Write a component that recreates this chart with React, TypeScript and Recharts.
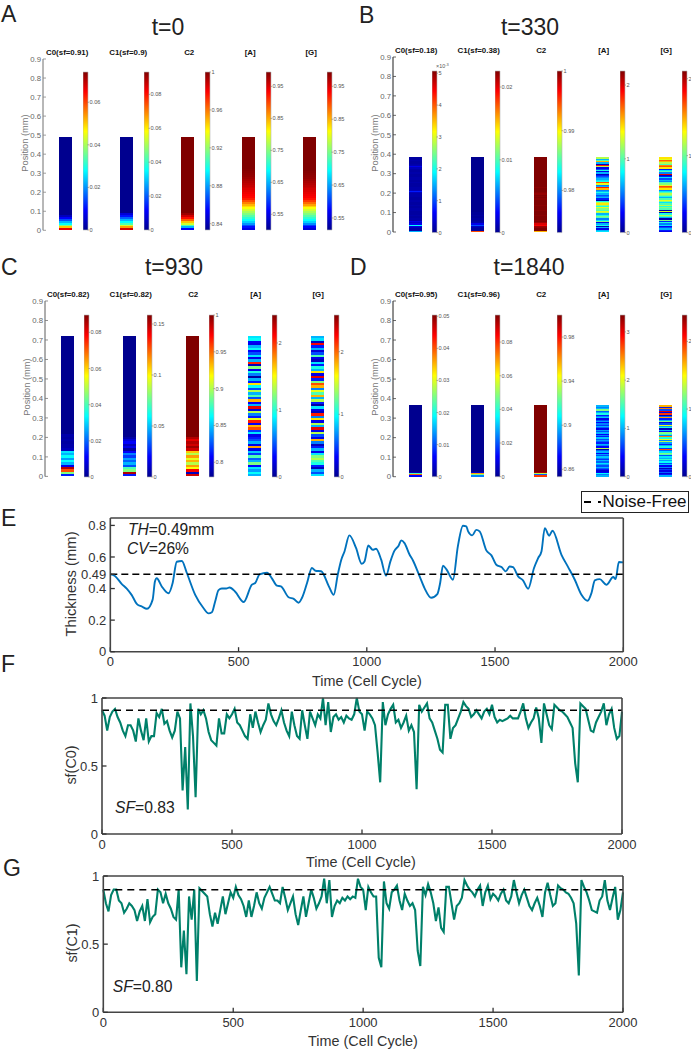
import { Bar, BarChart, Cell, Line, LineChart, ReferenceLine, XAxis, YAxis } from 'recharts';

const PAGE_W = 691;
const FONT = '"Liberation Sans", Arial, sans-serif';

// -- heat columns: colour level 0..1 per grid cell, bottom up. Last cell runs to the film top.
const A_C0 = [.9, .68, .5, .38, .3, .2, .12, .05, 0];
const A_C1 = [.92, .72, .58, .45, .38, .3, .22, .14, .08, 0];
const A_C2 = [.12, .3, .45, .58, .68, .78, .86, .92, .97, 1];
const A_A = [.1, .14, .2, .27, .33, .38, .42, .46, .5, .54, .58, .62, .66, .7, .75, .8, .85, .87, .88, .89, .9, .91, .92, .93, .94, .95, .96, .97, .98, .985, .99, .995, 1];
const A_G = [.08, .12, .18, .26, .33, .38, .42, .46, .5, .54, .58, .62, .67, .72, .77, .82, .86, .88, .89, .9, .91, .92, .93, .94, .95, .96, .97, .98, .985, .99, .995, 1];

const B_C0 = [.3, .03, .03, .05, .1, .38, .1, .06, .1, .03, .03, .02, .02, .03, .02, .02, .02, .03, .03, .02, .02, .03, .02, .02, .03, .03, .02, .02, .03, .03, .03, .05, .15, .05, .03, .03, .02, .02, .02, .03, .02, .02, .03, .03, .02, .02, .02, .03, .02, .02, .03, .05, .1, .04, .03, .02, .02, .03, .02, .02];
const B_C1 = [.8, .02, .02, .03, .06, .2, .1, .03, .02, .01, .02, .01, .01, .02, .01, .01, 0];
const B_C2 = [.7, 1, 1, .98, .97, .88, .91, .97, 1, .99, 1, 1, 1, .99, 1, 1, 1, .99, 1, 1, 1, .99, 1, 1, 1, 1, .99, 1, .99, 1, .98, .99, 1, 1, 1, .99, 1, 1, 1];
const B_A = [.35, .3, .1, .3, .05, .4, .3, .1, .5, .35, .25, .45, .5, .4, .3, .55, .6, .45, .5, .6, .4, .5, .65, .55, .4, .02, .15, .3, .25, .2, .3, .4, .3, .25, .7, .85, .3, .25, .6, .8, .4, .35, .3, .25, .2, .15, .05, .3, .1, .4, .2, .1, .55, .85, .05, .3, .7, .45, .3, .55];
const B_G = [.1, .15, .3, .2, .12, .35, .25, .4, .15, .5, .03, .3, .45, .55, .4, .05, .6, .02, .45, .5, .4, .55, .45, .35, .5, .6, .45, .3, .4, .5, .55, .45, .35, .25, .65, .75, .8, .6, .5, .45, .25, .3, .2, .35, .15, .05, .9, .25, .45, .35, .15, .65, .8, .75, .45, .55, .7, .78, .6, .65];

const C_C0 = [.15, .5, .8, .95, .1, .3, .38, .28, .38, .3, .35, .05, .03, .03, .02, .03, .02, .03, 0];
const C_C1 = [.15, .95, .5, .45, .2, .3, .22, .28, .18, .25, .12, .02, .1, .05, .12, .08, .03, 0];
const C_C2 = [.92, .05, .88, .62, .72, .55, .7, .6, .72, .55, .68, .92, .97, .92, .95, .9, .95, 1];
const C_A = [.3, .38, .28, .35, .12, .5, .3, .22, .45, .18, .32, .1, .72, .1, .3, .2, .15, .1, .35, .18, .8, .7, .12, .85, .6, .15, .25, .55, .08, .9, .3, .12, .7, .2, .45, .3, .55, .2, .38, .65, .15, .3, .02, .25, .4, .1, .5, .05, .85, .3, .1, .35, .2, .12, .38, .3, .1, .12, .38, .35];
const C_G = [.35, .2, .3, .05, .15, .4, .45, .55, .5, .35, .1, .3, .15, .05, .25, .7, .1, .2, .55, .1, .9, .3, .55, .1, .65, .25, .85, .05, .1, .35, .02, .15, .55, .3, .7, .45, .6, .25, .7, .8, .5, .15, .9, .1, .65, .3, .4, .15, .35, .05, .1, .45, .2, .08, .3, .15, .88, .05, .35, .3];

const D_C0 = [.12, .78, .45, .05, 0];
const D_C1 = [.25, .5, .72, .08, 0];
const D_C2 = [.82, .22, .55, .95, 1];
const D_A = [.3, .25, .38, .12, .08, .15, .22, .3, .2, .28, .35, .22, .3, .18, .25, .32, .2, .28, .12, .3, .22, .02, .55, .12, .25, .3, .15, .22, .28, .2, .32, .15, .25, .12, .3, .2, .28, .1, .22, .3, .18, .25, .12, .28, .2, .1, .32, .25, .15, .4, .3, .22, .5, .3, .25, .3];
const D_G = [.3, .15, .08, .22, .1, .18, .05, .25, .12, .32, .2, .38, .28, .42, .3, .35, .2, .45, .5, .35, .22, .8, .18, .4, .3, .15, .28, .55, .25, .6, .4, .75, .25, .42, .5, .12, .3, .05, .4, .28, .6, .2, .08, .5, .3, .15, .72, .22, .05, .82, .1, .9, .2, .75, .15, .7];

// -- colour bars: [min, max] and tick values for each column
const A_BARS = [
  { domain: [0, 0.0742], ticks: [0, 0.02, 0.04, 0.06] },
  { domain: [0, 0.0932], ticks: [0, 0.02, 0.04, 0.06, 0.08] },
  { domain: [0.8333, 1], ticks: [0.84, 0.88, 0.92, 0.96, 1] },
  { domain: [0.501, 0.995], ticks: [0.55, 0.65, 0.75, 0.85, 0.95] },
  { domain: [0.5135, 0.9935], ticks: [0.55, 0.65, 0.75, 0.85, 0.95] },
];
const B_BARS = [
  { domain: [0, 5.07], ticks: [0, 1, 2, 3, 4, 5] },
  { domain: [0, 0.0222], ticks: [0, 0.01, 0.02] },
  { domain: [0.97294, 1], ticks: [0.98, 0.99, 1] },
  { domain: [0, 2.19], ticks: [0, 1, 2] },
  { domain: [0, 2.1], ticks: [0, 1, 2] },
];
const C_BARS = [
  { domain: [0, 0.0896], ticks: [0, 0.02, 0.04, 0.06, 0.08] },
  { domain: [0, 0.1588], ticks: [0, 0.05, 0.1, 0.15] },
  { domain: [0.78, 1], ticks: [0.8, 0.85, 0.9, 0.95, 1] },
  { domain: [0, 2.418], ticks: [0, 1, 2] },
  { domain: [0, 2.585], ticks: [0, 1, 2] },
];
const D_BARS = [
  { domain: [0, 0.0504], ticks: [0, 0.01, 0.02, 0.03, 0.04, 0.05] },
  { domain: [0, 0.0961], ticks: [0, 0.02, 0.04, 0.06, 0.08] },
  { domain: [0.8533, 1], ticks: [0.86, 0.9, 0.94, 0.98] },
  { domain: [0, 3.35], ticks: [0, 1, 2, 3] },
  { domain: [0, 2.39], ticks: [0, 1, 2] },
];

const POSITION_TICKS = [0, 0.1, 0.2, 0.3, 0.4, 0.5, 0.6, 0.7, 0.8, 0.9];

// -- thickness trace
const THICK_T = [0, 18, 44, 64, 83, 105, 122, 143, 165, 174, 181, 200, 227, 243, 259, 279, 298, 331, 363, 383, 396, 409, 422, 435, 452, 465, 487, 520, 552, 565, 582, 611, 630, 650, 665, 695, 715, 734, 747, 767, 786, 800, 822, 852, 871, 887, 900, 913, 932, 958, 980, 991, 1006, 1023, 1036, 1056, 1075, 1092, 1108, 1124, 1134, 1147, 1167, 1180, 1206, 1225, 1251, 1275, 1286, 1297, 1310, 1336, 1355, 1375, 1388, 1395, 1411, 1427, 1440, 1466, 1486, 1505, 1525, 1542, 1557, 1570, 1590, 1609, 1629, 1652, 1668, 1681, 1694, 1711, 1724, 1759, 1785, 1811, 1837, 1861, 1876, 1889, 1908, 1934, 1961, 1970, 1983, 2000];
const THICK_V = [.49, .48, .43, .40, .36, .30, .287, .272, .33, .445, .465, .415, .37, .435, .57, .575, .50, .36, .277, .243, .25, .32, .39, .40, .40, .407, .38, .315, .425, .435, .49, .50, .465, .418, .414, .345, .335, .31, .34, .435, .53, .513, .51, .414, .36, .49, .58, .635, .737, .657, .557, .572, .673, .646, .652, .583, .481, .572, .64, .671, .705, .688, .614, .578, .477, .403, .342, .365, .435, .545, .523, .456, .667, .798, .794, .762, .737, .772, .762, .642, .61, .551, .536, .509, .54, .536, .477, .452, .399, .53, .593, .635, .783, .735, .766, .614, .536, .456, .361, .323, .372, .452, .46, .424, .473, .46, .568, .566];

// -- sf traces, one reading every 10 cell cycles
const SF_C0 = [
  .91, .87, .76, .86, .90, .92, .86, .82, .76, .72,
  .80, .80, .76, .68, .85, .76, .69, .85, .68, .72,
  .72, .89, .86, .92, .81, .83, .76, .71, .76, .90,
  .85, .32, .64, .18, .96, .72, .27, .92, .88, .91,
  .85, .75, .69, .67, .65, .85, .74, .74, .88, .85,
  .88, .92, .82, .80, .76, .72, .70, .88, .78, .90,
  .82, .75, .80, .84, .96, .88, .83, .80, .85, .91,
  .82, .76, .72, .90, .80, .72, .70, .91, .80, .70,
  .90, .85, .80, .88, .85, 1.0, .80, .97, .75, .86,
  .88, .84, .86, .82, .87, .85, .84, .88, 1.0, .90,
  .88, .76, .90, .88, .85, .80, .60, .38, .97, .80,
  .88, .92, .95, .82, .84, .78, .82, .87, .76, .80,
  .75, .33, .95, .90, .93, .96, .85, .82, .76, .70,
  .62, .60, .95, .95, .70, .78, .80, .85, .90, .97,
  .94, .92, .86, .88, .91, .88, .85, .90, .92, .88,
  .95, .86, .82, .84, .83, .84, .85, .87, .85, .85,
  .85, .90, .96, .85, .78, .82, .85, .93, .85, .67,
  .96, .88, .80, .77, .95, .93, .91, .90, .88, .86,
  .82, .78, .52, .38, .96, .94, .92, .84, .76, .75,
  .82, .86, .90, .96, .80, .88, .92, .78, .70, .72,
  .90,
];
const SF_C1 = [
  .90, .80, .74, .86, .90, .90, .82, .80, .73, .76,
  .80, .78, .75, .67, .74, .78, .67, .83, .66, .70,
  .72, .90, .88, .80, .87, .80, .76, .70, .68, .90,
  .33, .60, .28, .85, .68, .90, .23, .91, .89, .87,
  .85, .72, .63, .73, .65, .75, .85, .72, .80, .88,
  .84, .92, .86, .83, .78, .70, .82, .70, .78, .88,
  .80, .76, .84, .88, .92, .87, .82, .82, .80, .92,
  .84, .75, .80, .85, .72, .64, .75, .85, .70, .80,
  .90, .84, .76, .80, .85, .98, .80, .97, .70, .78,
  .82, .80, .84, .82, .85, .83, .85, .84, .98, .92,
  .90, .75, .92, .88, .85, .85, .40, .33, .96, .80,
  .76, .88, .90, .93, .82, .75, .87, .82, .78, .80,
  .75, .45, .34, .92, .86, .94, .88, .80, .67, .77,
  .62, .59, .92, .92, .80, .68, .78, .80, .84, .97,
  .93, .90, .88, .85, .90, .93, .78, .88, .93, .83,
  .87, .85, .82, .87, .90, .82, .80, .85, .97, .88,
  .80, .86, .90, .84, .78, .75, .80, .84, .78, .70,
  .88, .95, .86, .78, .80, .93, .91, .90, .88, .87,
  .84, .80, .65, .27, .97, .92, .88, .82, .75, .74,
  .73, .82, .85, .97, .82, .75, .84, .92, .68, .75,
  .88,
];

const JET_STOPS: [number, number, number, number][] = [
  [0, 0, 0, 143],
  [0.125, 0, 0, 255],
  [0.375, 0, 255, 255],
  [0.625, 255, 255, 0],
  [0.875, 255, 0, 0],
  [1, 128, 0, 0],
];

function jet(level: number) {
  for (let i = 1; i < JET_STOPS.length; i++) {
    const [p1, r1, g1, b1] = JET_STOPS[i];
    const [p0, r0, g0, b0] = JET_STOPS[i - 1];
    if (level <= p1) {
      const k = (level - p0) / (p1 - p0);
      return `rgb(${Math.round(r0 + (r1 - r0) * k)},${Math.round(g0 + (g1 - g0) * k)},${Math.round(b0 + (b1 - b0) * k)})`;
    }
  }
  return 'rgb(128,0,0)';
}

function Label({ x, y, size, children, color = '#333', weight, anchor = 'center', rotate }: any) {
  const tx = anchor === 'center' ? '-50%' : '0';
  return (
    <div
      style={{
        position: 'absolute',
        left: x,
        top: y,
        fontSize: size,
        color,
        fontWeight: weight,
        whiteSpace: 'nowrap',
        lineHeight: 1,
        transform: `translate(${tx}, -50%)${rotate ? ` rotate(${rotate}deg)` : ''}`,
      }}
    >
      {children}
    </div>
  );
}

function ColorBar({ left, top, height, domain, ticks }: any) {
  const barW = 4.5;
  const axisW = 30;
  return (
    <div style={{ position: 'absolute', left, top: top - 4 }}>
      <BarChart
        width={barW + axisW}
        height={height + 8}
        data={[{ name: 'scale', range: domain }]}
        margin={{ top: 4, bottom: 4, left: 0, right: 0 }}
        barCategoryGap={0}
      >
        <defs>
          <linearGradient id="jet" x1="0" y1="1" x2="0" y2="0">
            {JET_STOPS.map((s) => (
              <stop key={s[0]} offset={s[0]} stopColor={`rgb(${s[1]},${s[2]},${s[3]})`} />
            ))}
          </linearGradient>
        </defs>
        <XAxis dataKey="name" hide />
        <YAxis
          orientation="right"
          type="number"
          width={axisW}
          domain={domain}
          ticks={ticks}
          interval={0}
          axisLine={false}
          tickSize={1.5}
          tickMargin={0.5}
          tickLine={{ stroke: '#666', strokeWidth: 0.5 }}
          tick={{ fill: '#555', fontSize: 5.6 }}
        />
        <Bar dataKey="range" fill="url(#jet)" stroke="#b5b5b5" strokeWidth={0.6} isAnimationActive={false} />
      </BarChart>
    </div>
  );
}

function HeatPanel({ geo, columns, cell, thickness, bars, axisColor, titles }: any) {
  const { axisX, top, bottom, col0, period, barOffset, barTop } = geo;
  const plotH = bottom - top;
  const plotW = period * 5;
  const lo = (axisX - col0) / period;
  const bandCount = Math.max(...columns.map((c: number[]) => c.length));
  const bandKeys = Array.from({ length: bandCount }, (_, i) => `b${i}`);
  const rows = columns.map((levels: number[], column: number) => {
    const row: Record<string, number> = { column };
    levels.forEach((_, i) => {
      row[`b${i}`] = i === levels.length - 1 ? thickness - cell * (levels.length - 1) : cell;
    });
    return row;
  });
  const yAxisW = 30;
  return (
    <>
      <div style={{ position: 'absolute', left: axisX - yAxisW, top: top - 6 }}>
        <BarChart
          width={yAxisW + plotW}
          height={plotH + 12}
          data={rows}
          margin={{ top: 6, bottom: 6, left: 0, right: 0 }}
          barSize={12.7}
        >
          <XAxis type="number" dataKey="column" domain={[lo, lo + 5]} hide />
          <YAxis
            type="number"
            width={yAxisW}
            domain={[0, 0.9]}
            ticks={POSITION_TICKS}
            interval={0}
            tickSize={-3}
            tickMargin={5}
            axisLine={{ stroke: axisColor, strokeWidth: 1.2 }}
            tickLine={{ stroke: axisColor, strokeWidth: 0.8 }}
            tick={{ fill: '#666', fontSize: 7.8 }}
          />
          {bandKeys.map((key, band) => (
            <Bar key={key} dataKey={key} stackId="film" isAnimationActive={false} shapeRendering="crispEdges">
              {columns.map((levels: number[], c: number) => (
                <Cell key={c} fill={band < levels.length ? jet(levels[band]) : 'none'} />
              ))}
            </Bar>
          ))}
        </BarChart>
      </div>
      {bars.map((b: any, i: number) => (
        <ColorBar
          key={i}
          left={col0 + period * i + barOffset}
          top={barTop}
          height={bottom - barTop}
          domain={b.domain}
          ticks={b.ticks}
        />
      ))}
      {titles.map((t: string, i: number) => (
        <Label key={t} x={col0 + period * i + 1.5} y={top - 6.5} size={7.9} weight="bold" color="#111">
          {t}
        </Label>
      ))}
      <Label x={axisX - 17} y={(top + bottom) / 2 - 2} size={9.3} color="#777" rotate={-90}>
        Position (mm)
      </Label>
    </>
  );
}

function TracePanel({ plot, data, color, refValue, yDomain, yTicks, yRightTicks, curve = 'linear', width = 2.1, dash, tickOut }: any) {
  const { left, right, top, bottom } = plot;
  const yW = 40;
  const xH = 30;
  const pad = 12;
  return (
    <div style={{ position: 'absolute', left: 0, top: top - pad - 1 }}>
      <LineChart
        width={PAGE_W}
        height={bottom - top + xH + pad + 2}
        data={data}
        margin={{ top: pad, bottom: 1, left: left - yW, right: PAGE_W - right - 1 }}
      >
        <XAxis
          xAxisId="bottom"
          type="number"
          dataKey="time"
          height={xH}
          domain={[0, 2000]}
          ticks={[0, 500, 1000, 1500, 2000]}
          interval={0}
          tickSize={-4.5}
          tickMargin={tickOut}
          axisLine={{ stroke: '#444', strokeWidth: 1.6 }}
          tickLine={{ stroke: '#333', strokeWidth: 1.3 }}
          tick={{ fill: '#333', fontSize: 13 }}
        />
        <XAxis
          xAxisId="top"
          orientation="top"
          type="number"
          dataKey="time"
          height={1}
          domain={[0, 2000]}
          ticks={[500, 1000, 1500]}
          interval={0}
          tickSize={-4.5}
          tick={false}
          axisLine={{ stroke: '#444', strokeWidth: 1.6 }}
          tickLine={{ stroke: '#333', strokeWidth: 1.3 }}
        />
        <YAxis
          yAxisId="left"
          type="number"
          width={yW}
          domain={yDomain}
          ticks={yTicks}
          interval={0}
          tickSize={-4.5}
          tickMargin={8.5}
          axisLine={{ stroke: '#444', strokeWidth: 1.6 }}
          tickLine={{ stroke: '#333', strokeWidth: 1.3 }}
          tick={{ fill: '#333', fontSize: 13 }}
        />
        <YAxis
          yAxisId="right"
          orientation="right"
          type="number"
          width={1}
          domain={yDomain}
          ticks={yRightTicks}
          interval={0}
          tickSize={-4.5}
          tick={false}
          axisLine={{ stroke: '#444', strokeWidth: 1.6 }}
          tickLine={{ stroke: '#333', strokeWidth: 1.3 }}
        />
        <Line
          xAxisId="bottom"
          yAxisId="left"
          type={curve}
          dataKey="value"
          stroke={color}
          strokeWidth={width}
          dot={false}
          isAnimationActive={false}
        />
        <ReferenceLine
          xAxisId="bottom"
          yAxisId="left"
          y={refValue}
          stroke="#000"
          strokeWidth={1.5}
          strokeDasharray={dash}
        />
      </LineChart>
    </div>
  );
}

const thicknessRows = THICK_T.map((time, i) => ({ time, value: THICK_V[i] }));
const c0Rows = SF_C0.map((value, i) => ({ time: i * 10, value }));
const c1Rows = SF_C1.map((value, i) => ({ time: i * 10, value }));

export default function App() {
  return (
    <div
      style={{
        position: 'absolute',
        left: 0,
        top: 0,
        width: PAGE_W,
        height: 1050,
        overflow: 'hidden',
        background: '#fff',
        fontFamily: FONT,
      }}
    >
      <Label x={1} y={14} size={23} anchor="left" color="#222">A</Label>
      <Label x={168} y={27} size={23} color="#222">t=0</Label>
      <HeatPanel
        geo={{ axisX: 43.3, top: 59, bottom: 230.3, col0: 65.7, period: 61, barOffset: 17, barTop: 72.3 }}
        columns={[A_C0, A_C1, A_C2, A_A, A_G]}
        cell={0.01}
        thickness={0.49}
        bars={A_BARS}
        axisColor="#888"
        titles={['C0(sf=0.91)', 'C1(sf=0.9)', 'C2', '[A]', '[G]']}
      />

      <Label x={359} y={15} size={23} anchor="left" color="#222">B</Label>
      <Label x={530} y={27} size={23} color="#222">t=330</Label>
      <HeatPanel
        geo={{ axisX: 392.5, top: 57.3, bottom: 232.3, col0: 414.7, period: 62.5, barOffset: 17.6, barTop: 70.7 }}
        columns={[B_C0, B_C1, B_C2, B_A, B_G]}
        cell={0.0064}
        thickness={0.385}
        bars={B_BARS}
        axisColor="#444"
        titles={['C0(sf=0.18)', 'C1(sf=0.38)', 'C2', '[A]', '[G]']}
      />
      <Label x={436} y={67} size={5.4} anchor="left" color="#555">
        ×10<sup style={{ fontSize: 4, lineHeight: 0 }}>-3</sup>
      </Label>

      <Label x={1} y={267} size={23} anchor="left" color="#222">C</Label>
      <Label x={174} y={267} size={23} color="#222">t=930</Label>
      <HeatPanel
        geo={{ axisX: 44.5, top: 301.3, bottom: 476.7, col0: 66.7, period: 62.5, barOffset: 17.6, barTop: 314.7 }}
        columns={[C_C0, C_C1, C_C2, C_A, C_G]}
        cell={0.012}
        thickness={0.72}
        bars={C_BARS}
        axisColor="#777"
        titles={['C0(sf=0.82)', 'C1(sf=0.82)', 'C2', '[A]', '[G]']}
      />

      <Label x={350} y={267} size={23} anchor="left" color="#222">D</Label>
      <Label x={529} y={267} size={23} color="#222">t=1840</Label>
      <HeatPanel
        geo={{ axisX: 392.5, top: 301, bottom: 476.7, col0: 414.7, period: 62.5, barOffset: 17.6, barTop: 315 }}
        columns={[D_C0, D_C1, D_C2, D_A, D_G]}
        cell={0.0065}
        thickness={0.365}
        bars={D_BARS}
        axisColor="#444"
        titles={['C0(sf=0.95)', 'C1(sf=0.96)', 'C2', '[A]', '[G]']}
      />

      <Label x={1} y={518} size={23} anchor="left" color="#222">E</Label>
      <TracePanel
        plot={{ left: 110.3, right: 623.3, top: 518.3, bottom: 652 }}
        data={thicknessRows}
        color="#0072BD"
        curve="monotone"
        width={1.9}
        refValue={0.49}
        yDomain={[0, 0.847]}
        yTicks={[0, 0.2, 0.4, 0.49, 0.6, 0.8]}
        yRightTicks={[0.2, 0.4, 0.6, 0.8]}
        dash="7 4"
        tickOut={10}
      />
      <Label x={71} y={584} size={14.8} color="#333" rotate={-90}>Thickness (mm)</Label>
      <Label x={367} y={681} size={14.4} color="#333">Time (Cell Cycle)</Label>
      <Label x={128} y={530} size={15.6} anchor="left" color="#222"><i>TH</i>=0.49mm</Label>
      <Label x={127} y={549} size={15.6} anchor="left" color="#222"><i>CV</i>=26%</Label>
      <div
        style={{
          position: 'absolute',
          left: 581,
          top: 491,
          width: 106,
          height: 20,
          border: '1.5px solid #222',
          display: 'flex',
          alignItems: 'center',
          fontSize: 17,
          color: '#111',
        }}
      >
        <span style={{ display: 'inline-block', width: 7, height: 1.5, background: '#000', marginLeft: 1.5 }} />
        <span style={{ display: 'inline-block', width: 3.5, height: 1.5, background: '#000', marginLeft: 7, marginRight: 1.5 }} />
        Noise-Free
      </div>

      <Label x={1} y={664} size={23} anchor="left" color="#222">F</Label>
      <TracePanel
        plot={{ left: 102, right: 622, top: 697.7, bottom: 833.7 }}
        data={c0Rows}
        color="#00806A"
        refValue={0.91}
        yDomain={[0, 1]}
        yTicks={[0, 0.5, 1]}
        yRightTicks={[0.5]}
        dash="7 5"
        tickOut={10}
      />
      <Label x={71} y={765} size={14.4} color="#333" rotate={-90}>sf(C0)</Label>
      <Label x={361} y={862} size={14.4} color="#333">Time (Cell Cycle)</Label>
      <Label x={115} y={808} size={15.7} anchor="left" color="#222"><i>SF</i>=0.83</Label>

      <Label x={3} y={868} size={23} anchor="left" color="#222">G</Label>
      <TracePanel
        plot={{ left: 103.3, right: 623, top: 875.7, bottom: 1012 }}
        data={c1Rows}
        color="#00806A"
        refValue={0.9}
        yDomain={[0, 1]}
        yTicks={[0, 0.5, 1]}
        yRightTicks={[0.5]}
        dash="7 5"
        tickOut={10}
      />
      <Label x={71.7} y={943} size={14.4} color="#333" rotate={-90}>sf(C1)</Label>
      <Label x={363} y={1041} size={14.4} color="#333">Time (Cell Cycle)</Label>
      <Label x={112.7} y={987} size={15.7} anchor="left" color="#222"><i>SF</i>=0.80</Label>
    </div>
  );
}
